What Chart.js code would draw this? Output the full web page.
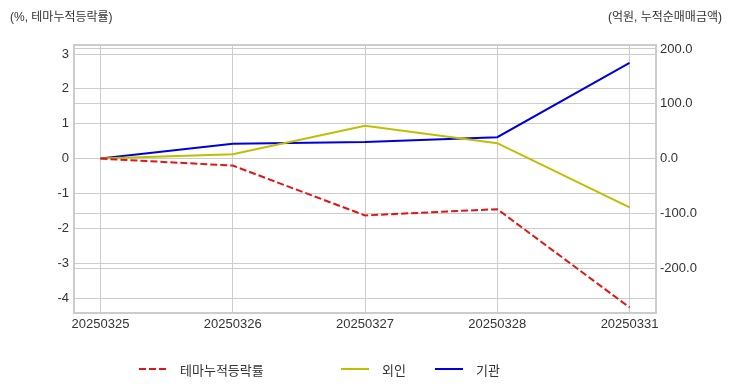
<!DOCTYPE html>
<html>
<head>
<meta charset="utf-8">
<script src="https://cdn.jsdelivr.net/npm/chart.js@4"></script>
<style>
  html, body { margin: 0; padding: 0; background: #fff; }
  #wrap { position: relative; width: 732px; height: 392px; font-family: "Liberation Sans", "Noto Sans CJK KR", sans-serif; color: #333; }
  #chart { position: absolute; left: 0; top: 0; }
  .axisTitle { position: absolute; top: 7px; font-size: 12px; white-space: nowrap; }
  #legend { position: absolute; top: 358px; left: 0; width: 732px; height: 22px; font-size: 13px; }
  .item { position: absolute; top: 0; display: flex; align-items: center; height: 22px; }
  .item svg { margin-right: 13px; }
</style>
</head>
<body>
<div id="wrap">
  <canvas id="chart" width="732" height="392"></canvas>
  <div class="axisTitle" style="left:10px">(%, 테마누적등락률)</div>
  <div class="axisTitle" style="right:10px">(억원, 누적순매매금액)</div>
  <div id="legend"></div>
</div>
<script>
// data
const dates = ['20250325', '20250326', '20250327', '20250328', '20250331'];
const themeRate = [0, -0.20, -1.63, -1.45, -4.27];      // %, left axis
const foreignNet = [0, 7.9, 60, 28, -89];               // 억원, right axis
const institutionNet = [0, 27, 30, 39, 174.5];          // 억원, right axis
const leftTicks = [3, 2, 1, 0, -1, -2, -3, -4];
const rightTicks = [200, 100, 0, -100, -200];

const seriesNames = ['테마누적등락률', '외인', '기관'];
const seriesColors = ['#e41414', '#bfbf00', '#0000dd'];

const gridColor = '#cccccc';
const tickFont = { family: '"Liberation Sans", "Noto Sans CJK KR", sans-serif', size: 13 };

// frame around the plot area
const frame = {
  id: 'frame',
  afterDraw(chart) {
    const a = chart.chartArea, ctx = chart.ctx;
    ctx.save();
    ctx.strokeStyle = gridColor;
    ctx.lineWidth = 2;
    ctx.strokeRect(a.left, a.top, a.right - a.left, a.bottom - a.top);
    ctx.restore();
  }
};

const toPoints = arr => arr.map((v, i) => ({ x: i, y: v }));

new Chart(document.getElementById('chart').getContext('2d'), {
  type: 'line',
  data: {
    datasets: [
      {
        label: seriesNames[0],
        data: toPoints(themeRate),
        yAxisID: 'y',
        borderColor: seriesColors[0],
        borderWidth: 2,
        borderDash: [7, 3],
        pointRadius: 0,
        tension: 0
      },
      {
        label: seriesNames[1],
        data: toPoints(foreignNet),
        yAxisID: 'y2',
        borderColor: seriesColors[1],
        borderWidth: 2,
        pointRadius: 0,
        tension: 0
      },
      {
        label: seriesNames[2],
        data: toPoints(institutionNet),
        yAxisID: 'y2',
        borderColor: seriesColors[2],
        borderWidth: 2,
        pointRadius: 0,
        tension: 0
      }
    ]
  },
  options: {
    responsive: false,
    animation: false,
    layout: { padding: { top: 45, left: 0, right: 0, bottom: 0 } },
    plugins: {
      legend: { display: false },
      tooltip: { enabled: false }
    },
    scales: {
      x: {
        type: 'linear',
        min: -0.2,
        max: 4.2,
        afterBuildTicks: axis => { axis.ticks = dates.map((_, i) => ({ value: i })); },
        afterFit: axis => { axis.height = 79; },
        ticks: {
          callback: v => dates[v],
          color: '#333',
          font: tickFont,
          padding: 4,
          maxRotation: 0
        },
        grid: { color: gridColor, drawTicks: false },
        border: { display: false }
      },
      y: {
        position: 'left',
        min: -4.43,
        max: 3.26,
        afterBuildTicks: axis => { axis.ticks = leftTicks.map(v => ({ value: v })); },
        afterFit: axis => { axis.width = 74; },
        ticks: { color: '#333', font: tickFont, padding: 5 },
        grid: { color: gridColor, drawTicks: false },
        border: { display: false }
      },
      y2: {
        position: 'right',
        min: -282,
        max: 207.3,
        afterBuildTicks: axis => { axis.ticks = rightTicks.map(v => ({ value: v })); },
        afterFit: axis => { axis.width = 76; },
        ticks: {
          color: '#333',
          font: tickFont,
          padding: 4,
          callback: v => v.toFixed(1)
        },
        grid: { color: gridColor, drawTicks: false },
        border: { display: false }
      }
    }
  },
  plugins: [frame]
});

// legend below the plot, laid out like the reference
const legendX = [139, 341, 435];
const legend = document.getElementById('legend');
seriesNames.forEach((name, i) => {
  const item = document.createElement('div');
  item.className = 'item';
  item.style.left = legendX[i] + 'px';
  const dash = i === 0 ? ' stroke-dasharray="7 3"' : '';
  item.innerHTML = '<svg width="28" height="4"><line x1="0" y1="2" x2="28" y2="2" stroke="' +
    seriesColors[i] + '" stroke-width="2"' + dash + '/></svg><span>' + name + '</span>';
  legend.appendChild(item);
});
</script>
</body>
</html>
